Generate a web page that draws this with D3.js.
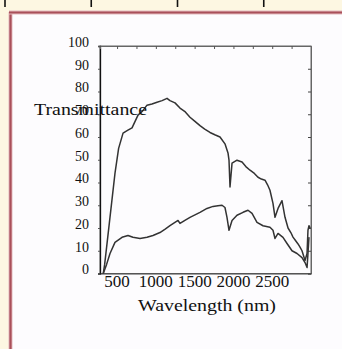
<!DOCTYPE html>
<html><head><meta charset="utf-8">
<script src="https://cdn.jsdelivr.net/npm/d3@7"></script>
<style>html,body{margin:0;padding:0;background:#fdf7e2;}svg{display:block;}</style>
</head><body>
<script>
// ---- data ----
const upperWl = [322,340,400,473,520,577,640,693,770,830,886,950,1015,1080,1144,1182,1247,1311,1380,1440,1500,1569,1630,1698,1760,1827,1891,1930,1943,1956,1982,2046,2111,2160,2214,2270,2317,2360,2407,2440,2471,2510,2536,2575,2626,2665,2704,2740,2768,2800,2833,2860,2884,2923,2949,2961,2974,2990];
const upperT  = [0,4,22,44,55,61.7,63,64,69.6,71.5,74,74.5,75.3,76,77,76,75,72.7,71,68.7,67,65,63.5,62,61,60,57,53,49.8,38,48.5,49.8,49,47,45.4,44,42.3,41.5,41,39,36.6,30.8,24.7,28.6,32,24.7,20,18,16,14.5,13,11.5,10,5.7,8.8,19,21,20];
const lowerWl = [322,365,409,473,564,641,705,796,886,963,1053,1120,1182,1286,1311,1380,1440,1569,1659,1737,1800,1853,1891,1917,1943,1982,2046,2124,2188,2240,2304,2381,2471,2510,2536,2575,2639,2691,2755,2820,2884,2923,2949,2961,2974];
const lowerT  = [0,4,8.8,13.7,15.9,16.7,15.9,15.4,15.9,16.7,18,19.5,21,23.3,22,23.5,24.7,26.9,28.6,29.5,29.8,30,29,24.7,19,23.3,25.6,26.9,27.8,26.4,22.5,21,20.3,19,15.4,17.6,15.9,13.2,10,8.8,7,4.8,2.6,8.8,16];
const xTicks = [500,1000,1500,2000,2500];
const xMinorTicks = [500,750,1000,1250,1500,1750,2000,2250,2500,2750];
const yTicks = [0,10,20,30,40,50,60,70,80,90,100];
const xTitle = "Wavelength (nm)";
const yTitle = "Transmittance";

// ---- layout ----
const W = 342, H = 349;
const svg = d3.select("body").append("svg").attr("width", W).attr("height", H);

// page frame
svg.append("rect").attr("x",0).attr("y",0).attr("width",W).attr("height",H).attr("fill","#fdf7e2");
svg.append("rect").attr("x",11).attr("y",13).attr("width",W-11).attr("height",H-13).attr("fill","#fdfcfe");
svg.append("line").attr("x1",10.5).attr("x2",10.5).attr("y1",12).attr("y2",H).attr("stroke","#e3b9bd").attr("stroke-width",4);
svg.append("line").attr("x1",10.5).attr("x2",10.5).attr("y1",12).attr("y2",H).attr("stroke","#a9505a").attr("stroke-width",2.2);
svg.append("line").attr("x1",9).attr("x2",W).attr("y1",12.5).attr("y2",12.5).attr("stroke","#e3b9bd").attr("stroke-width",4);
svg.append("line").attr("x1",9).attr("x2",W).attr("y1",12.5).attr("y2",12.5).attr("stroke","#a9505a").attr("stroke-width",2.2);
// ruler marks at the top of the page
const rulerScale = d3.scaleLinear().domain([0,4]).range([5,350]);
svg.selectAll("line.ruler").data([0,1,2,3]).join("line").attr("class","ruler")
  .attr("x1", d=>rulerScale(d)).attr("x2", d=>rulerScale(d)).attr("y1",0).attr("y2",7)
  .attr("stroke","#111").attr("stroke-width",1.6);

const L = 100, R = 311, T = 46, B = 273.5;
const x = d3.scaleLinear().domain([280,3000]).range([L,R]);
const y = d3.scaleLinear().domain([0,100]).range([B,T]);

const serif = "'Liberation Serif','DejaVu Serif',serif";

// plot box
svg.append("rect").attr("x",L).attr("y",T).attr("width",R-L).attr("height",B-T)
  .attr("fill","none").attr("stroke","#666").attr("stroke-width",1);

// left y axis
const gy = svg.append("g").attr("transform",`translate(${L},0)`)
  .call(d3.axisLeft(y).tickValues(yTicks).tickSize(2).tickFormat(""));
gy.select(".domain").attr("stroke","#111").attr("stroke-width",1.3);
gy.selectAll(".tick line").attr("stroke","#555");
svg.selectAll("text.ylab").data(yTicks).join("text").attr("class","ylab")
  .attr("x",89).attr("y",d=>y(d)-4).attr("dy","0.35em").attr("text-anchor","end")
  .attr("font-family",serif).attr("font-size",14).attr("fill","#111").text(d=>d);

// right axis ticks
const gr = svg.append("g").attr("transform",`translate(${R},0)`)
  .call(d3.axisLeft(y).tickValues(yTicks).tickSize(3).tickFormat(""));
gr.select(".domain").attr("stroke","#666");
gr.selectAll(".tick line").attr("stroke","#444");

// top axis ticks
const gt = svg.append("g").attr("transform",`translate(0,${T})`)
  .call(d3.axisBottom(x).tickValues(xMinorTicks).tickSize(3).tickFormat(""));
gt.select(".domain").attr("stroke","#666");
gt.selectAll(".tick line").attr("stroke","#555");

// bottom axis
const gb = svg.append("g").attr("transform",`translate(0,${B})`)
  .call(d3.axisBottom(x).tickValues(xTicks).tickSize(0).tickFormat(""));
gb.select(".domain").attr("stroke","#444").attr("stroke-width",1.2);
svg.selectAll("text.xlab").data(xTicks).join("text").attr("class","xlab")
  .attr("x",d=>x(d)).attr("y",287).attr("text-anchor","middle")
  .attr("font-family",serif).attr("font-size",17).attr("fill","#111").text(d=>d);

// titles
svg.append("text").attr("x",207).attr("y",311).attr("text-anchor","middle")
  .attr("font-family",serif).attr("font-size",16).attr("fill","#111")
  .attr("textLength",138).attr("lengthAdjust","spacingAndGlyphs").text(xTitle);

// curves
const line = d3.line().x(d=>x(d[0])).y(d=>y(d[1]));
const upper = upperWl.map((w,i)=>[w,upperT[i]]);
const lower = lowerWl.map((w,i)=>[w,lowerT[i]]);
[upper, lower].forEach(data=>{
  svg.append("path").datum(data).attr("d",line).attr("fill","none")
    .attr("stroke","#333").attr("stroke-width",1.5).attr("stroke-linejoin","round");
});

svg.append("text").attr("x",34).attr("y",115)
  .attr("font-family",serif).attr("font-size",16).attr("fill","#111")
  .attr("textLength",113).attr("lengthAdjust","spacingAndGlyphs").text(yTitle);
</script>
</body></html>
